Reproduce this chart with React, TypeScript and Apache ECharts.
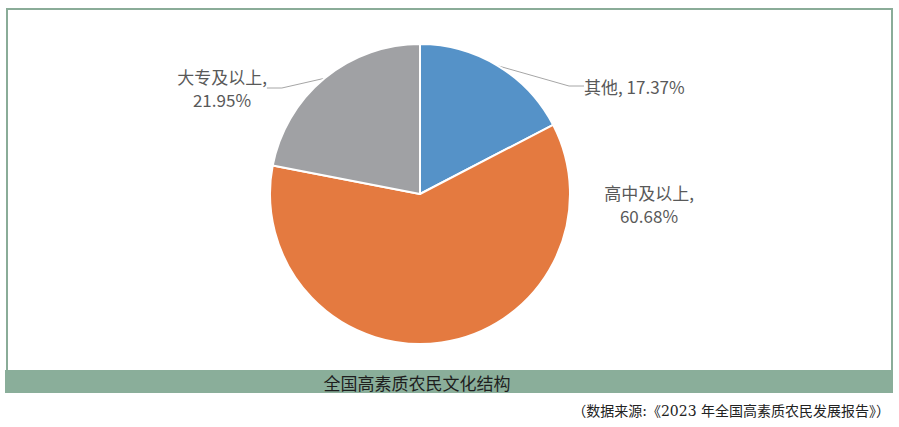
import React, { useEffect, useRef } from "react";
import * as echarts from "echarts";

const categories = ["其他", "高中及以上", "大专及以上"];
const values = [17.37, 60.68, 21.95];
const colors = ["#5592c8", "#e47a40", "#a0a1a4"];
const chartTitle = "全国高素质农民文化结构";
const sourceText = "（数据来源:《2023 年全国高素质农民发展报告》）";

export default function App() {
  const ref = useRef<HTMLDivElement>(null);
  useEffect(() => {
    if (!ref.current) return;
    const chart = echarts.init(ref.current, null, { renderer: "svg" });
    const labelPos = [
      { x: 584, y: 86, align: "left" },
      { x: 649, y: 204, align: "center" },
      { x: 222, y: 88, align: "center" },
    ];
    chart.setOption({
      animation: false,
      backgroundColor: "#ffffff",
      graphic: [
        {
          type: "rect",
          shape: { x: 7, y: 9, width: 885, height: 362 },
          style: { fill: "none", stroke: "#8aac98", lineWidth: 2 },
          z: 0,
        },
        {
          type: "rect",
          shape: { x: 5, y: 370, width: 888, height: 23 },
          style: { fill: "#8aae9a" },
          z: 1,
        },
        {
          type: "text",
          x: 417,
          y: 382,
          style: {
            text: chartTitle,
            fill: "#1e1e1e",
            fontSize: 17,
            fontFamily: "Noto Sans CJK SC",
            align: "center",
            verticalAlign: "middle",
          },
          z: 2,
        },
        {
          type: "text",
          x: 890,
          y: 411,
          style: {
            text: sourceText,
            fill: "#222222",
            fontSize: 14,
            fontFamily: "DejaVu Serif, Noto Sans CJK SC",
            align: "right",
            verticalAlign: "middle",
          },
          z: 2,
        },
      ],
      series: [
        {
          type: "pie",
          center: [420, 194],
          radius: 150,
          startAngle: 90,
          clockwise: true,
          itemStyle: { borderColor: "#ffffff", borderWidth: 2 },
          label: {
            show: true,
            position: "outside",
            fontSize: 17,
            lineHeight: 23,
            color: "#595959",
            fontFamily: "Noto Sans CJK SC",
          },
          labelLine: {
            show: true,
            length: 15,
            length2: 15,
            lineStyle: { color: "#a6a6a6", width: 1 },
          },
          labelLayout: (params: any) => {
            const p = labelPos[params.dataIndex];
            return {
              x: p.x,
              y: p.y,
              align: p.align,
              verticalAlign: "middle",
            };
          },
          data: categories.map((name, i) => ({
            name,
            value: values[i],
            itemStyle: { color: colors[i] },
            label: {
              formatter: i === 0 ? "{b}, {c}%" : "{b},\n{c}%",
            },
            labelLine: { show: i !== 1 },
          })),
        },
      ],
    });
    return () => chart.dispose();
  }, []);
  return (
    <div
      ref={ref}
      style={{ position: "absolute", left: 0, top: 0, width: 899, height: 427 }}
    />
  );
}
